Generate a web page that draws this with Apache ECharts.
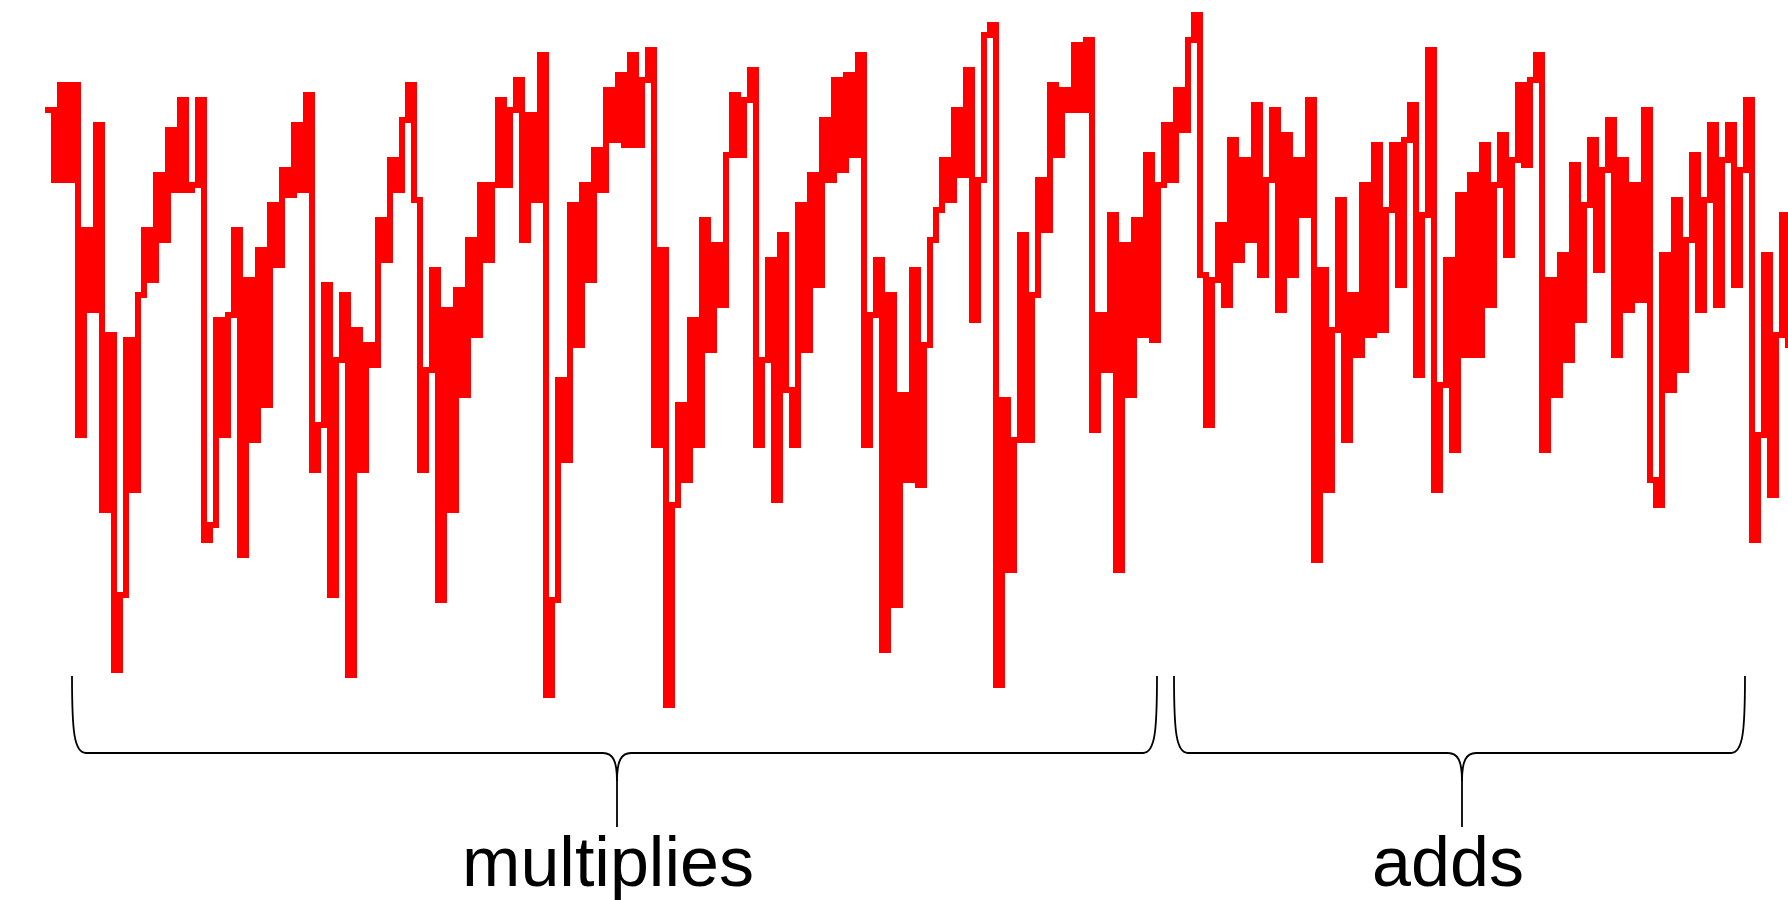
<!DOCTYPE html>
<html>
<head>
<meta charset="utf-8">
<script src="https://cdn.jsdelivr.net/npm/echarts@6/dist/echarts.min.js"></script>
<style>
html,body{margin:0;padding:0;background:#fff;}
#chart{width:1788px;height:900px;}
</style>
</head>
<body>
<div id="chart"></div>
<script>
// signal values (arbitrary units, 0..140), one sample per step
const multipliesPart = [
120,106,125,106,125,55,96,80,117,40,
75,8,23,74,44,83,96,86,107,94,
116,104,122,104,105,122,34,37,78,55,
79,96,31,86,54,92,61,101,89,108,
103,117,104,123,48,57,85,23,70,83,
7,76,48,73,69,98,90,110,104,118,
125,102,48,68,88,22,80,40,84,63,
94,75,105,90,105,122,105,120,126,94,
119,102,131,3,22,66,50,101,73,105,
86,112,104,124,114,127,113,131,113,126,
132,53,92,1,41,61,46,78,53,98,
72,93,81,111,123,111,122,128,53,70,
90,42,95,64,53,101,72,107,85,118,
106,126,108,127,111,131,53,79,90,12,
83,21,63,46,88,45,73,94,100,110,
102,120,107,128,78,106,135,137,5,62,
28,54,95,54,83,106,96,125,111,124,
120,133,120,134,56,79,68,99,28,93,
63,98,75,111,74,105,117,106,124,116,
134,139
];
const addsPart = [
87,57,86,97,81,114,90,110,94,121,
87,106,120,80,115,87,110,99,122,30,
88,44,76,102,54,83,71,105,75,113,
76,100,113,85,114,121,67,99,132,44,
65,90,52,103,71,107,71,113,81,105,
115,91,110,125,109,126,131,52,86,63,
91,70,109,78,101,114,88,108,118,71,
110,80,105,82,120,46,41,91,64,102,
68,94,111,80,102,117,81,110,117,85,
108,122,34,55,91,43,75,99,73
];
const braceLabels = ['multiplies', 'adds'];

const values = multipliesPart.concat(addsPart);
const categories = values.map((_, i) => i);
// [index, previous value, current value] -> one step of the trace
const stepData = values.map((v, i) => [i, i > 0 ? values[i - 1] : v, v]);

const braceStyle = {stroke: '#000', fill: null, lineWidth: 1.8};
function brace(xL, xR, xC, yTop, yH, yTip) {
  const els = [];
  const bz = (x1, y1, c1x, c1y, c2x, c2y, x2, y2) => els.push({type: 'bezierCurve',
    shape: {x1: x1, y1: y1, cpx1: c1x, cpy1: c1y, cpx2: c2x, cpy2: c2y, x2: x2, y2: y2}, style: braceStyle});
  const ln = (x1, y1, x2, y2) => els.push({type: 'line', shape: {x1: x1, y1: y1, x2: x2, y2: y2}, style: braceStyle});
  bz(xL, yTop, xL, yH - 22, xL + 2, yH, xL + 14, yH);
  ln(xL + 14, yH, xC - 14, yH);
  bz(xC - 14, yH, xC - 4, yH, xC, yH + 8, xC, yH + 28);
  ln(xC, yH + 28, xC, yTip);
  bz(xC + 14, yH, xC + 4, yH, xC, yH + 8, xC, yH + 28);
  ln(xC + 14, yH, xR - 14, yH);
  bz(xR - 14, yH, xR - 2, yH, xR, yH - 22, xR, yTop);
  return els;
}

const STROKE = 6;
function renderStep(params, api) {
  const i = api.value(0);
  const p0 = api.coord([i, api.value(1)]);
  const p1 = api.coord([i, api.value(2)]);
  const h = STROKE / 2;
  const style = {fill: '#ff0000'};
  const children = [{
    type: 'rect',
    shape: {x: p1[0] - h, y: Math.min(p0[1], p1[1]) - h, width: STROKE, height: Math.abs(p0[1] - p1[1]) + STROKE},
    style: style
  }];
  if (i < values.length - 1) {
    const p2 = api.coord([i + 1, api.value(2)]);
    children.push({
      type: 'rect',
      shape: {x: p1[0] - h, y: p1[1] - h, width: p2[0] - p1[0] + STROKE, height: STROKE},
      style: style
    });
  }
  return {type: 'group', children: children};
}

const chart = echarts.init(document.getElementById('chart'), null, {renderer: 'canvas'});
const labelFont = '70px "Liberation Sans", Arial, sans-serif';
chart.setOption({
  animation: false,
  backgroundColor: '#ffffff',
  grid: {left: 48, right: 0, top: 10, bottom: 190},
  xAxis: {type: 'category', data: categories, boundaryGap: false, show: false},
  yAxis: {type: 'value', min: 0, max: 140, show: false},
  series: [{
    type: 'custom',
    data: stepData,
    encode: {x: 0, y: [1, 2]},
    renderItem: renderStep,
    clip: false
  }],
  graphic: [].concat(
    brace(72, 1157, 617, 676, 753, 827),
    brace(1174, 1745, 1462, 676, 753, 827),
    [
      {type: 'text', style: {text: braceLabels[0], x: 608, y: 867, font: labelFont, fill: '#000',
        align: 'center', verticalAlign: 'middle'}},
      {type: 'text', style: {text: braceLabels[1], x: 1448, y: 867, font: labelFont, fill: '#000',
        align: 'center', verticalAlign: 'middle'}}
    ]
  )
});
</script>
</body>
</html>
